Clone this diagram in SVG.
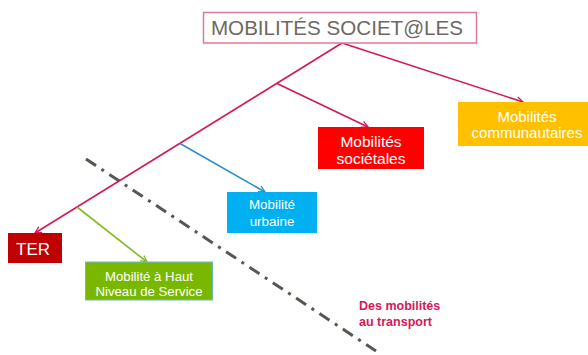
<svg xmlns="http://www.w3.org/2000/svg" width="588" height="355" viewBox="0 0 588 355">
<defs>
<style>
.box-text{font-family:"Liberation Sans",Arial,sans-serif;fill:#ffffff;text-anchor:middle}
.conn{fill:none;stroke-width:1.6}
.red{stroke:#D2185A}
.blue{stroke:#2A8FCC}
.green{stroke:#80BC24}
</style>
<marker id="arR" viewBox="0 0 10 10" refX="9" refY="5" markerWidth="8" markerHeight="8" markerUnits="userSpaceOnUse" orient="auto">
<path d="M1,1 L9,5 L1,9" fill="none" stroke="#D2185A" stroke-width="1.6"/>
</marker>
<marker id="arB" viewBox="0 0 10 10" refX="9" refY="5" markerWidth="8" markerHeight="8" markerUnits="userSpaceOnUse" orient="auto">
<path d="M1,1 L9,5 L1,9" fill="none" stroke="#2A8FCC" stroke-width="1.6"/>
</marker>
<marker id="arG" viewBox="0 0 10 10" refX="9" refY="5" markerWidth="8" markerHeight="8" markerUnits="userSpaceOnUse" orient="auto">
<path d="M1,1 L9,5 L1,9" fill="none" stroke="#80BC24" stroke-width="1.6"/>
</marker>
</defs>
<rect width="588" height="355" fill="#ffffff"/>
<g id="divider">
<line x1="86" y1="159" x2="376" y2="351" stroke="#5B5550" stroke-width="3" stroke-dasharray="12 6.5 3 6.5"/>
</g>
<g id="connectors">
<line class="conn red" x1="342" y1="43" x2="35" y2="233" marker-end="url(#arR)"/>
<line class="conn red" x1="342" y1="43" x2="523" y2="102" marker-end="url(#arR)"/>
<line class="conn red" x1="277" y1="83.5" x2="368" y2="127" marker-end="url(#arR)"/>
<line class="conn blue" x1="180" y1="143.5" x2="265" y2="192" marker-end="url(#arB)"/>
<line class="conn green" x1="77" y1="207" x2="147" y2="262" marker-end="url(#arG)"/>
</g>
<g id="root">
<rect x="203.5" y="12.5" width="273" height="30.5" fill="#ffffff" stroke="#E07898" stroke-width="1.5"/>
<text x="337" y="35" font-family="'Liberation Sans',Arial,sans-serif" font-size="20.6" fill="#6F6861" text-anchor="middle">MOBILITÉS SOCIET@LES</text>
</g>
<g id="communautaires">
<rect x="458" y="102" width="130" height="44" fill="#FFC000"/>
<text class="box-text" x="527" y="121.5" font-size="15">Mobilités</text>
<text class="box-text" x="527" y="138" font-size="15">communautaires</text>
</g>
<g id="societales">
<rect x="318" y="127" width="106" height="42" fill="#FF0000"/>
<text class="box-text" x="371" y="146.5" font-size="15.5">Mobilités</text>
<text class="box-text" x="371" y="164" font-size="15.5">sociétales</text>
</g>
<g id="urbaine">
<rect x="227" y="192" width="90" height="41" fill="#00B0F0"/>
<text class="box-text" x="272" y="209" font-size="13.4">Mobilité</text>
<text class="box-text" x="272" y="225.5" font-size="13.4">urbaine</text>
</g>
<g id="ter">
<rect x="8" y="233" width="54" height="30" fill="#C00000"/>
<text class="box-text" x="33" y="255" font-size="17">TER</text>
</g>
<g id="bhns">
<rect x="85.5" y="262" width="127" height="38" fill="#7AB800" stroke="#6CB8C8" stroke-width="1"/>
<text class="box-text" x="149" y="281" font-size="13.2">Mobilité à Haut</text>
<text class="box-text" x="149" y="295.5" font-size="13.2">Niveau de Service</text>
</g>
<g id="label">
<text x="359" y="310" font-family="'Liberation Sans',Arial,sans-serif" font-size="12.5" font-weight="bold" fill="#D2185A">Des mobilités</text>
<text x="359" y="326" font-family="'Liberation Sans',Arial,sans-serif" font-size="12.5" font-weight="bold" fill="#D2185A">au transport</text>
</g>
</svg>
